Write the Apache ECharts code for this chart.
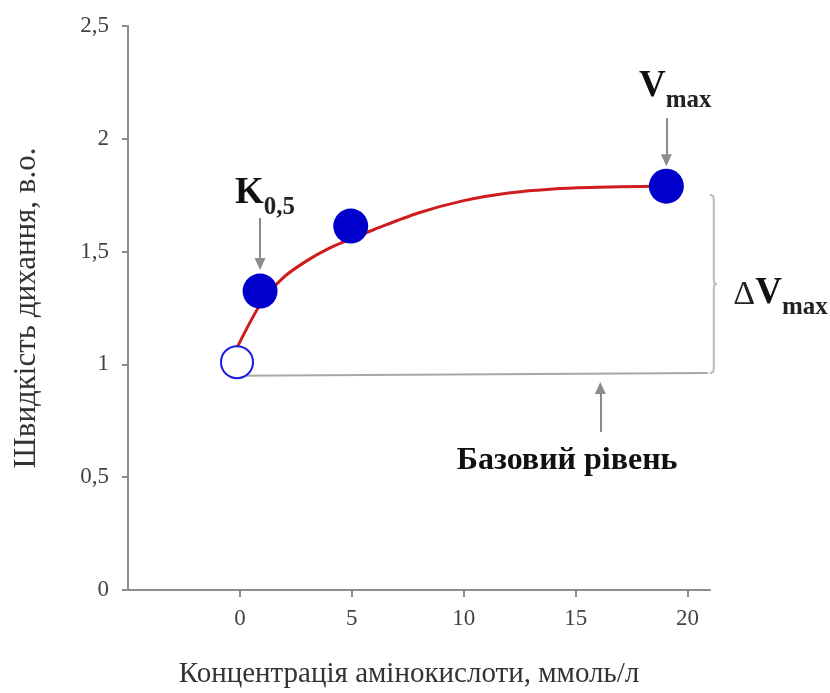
<!DOCTYPE html>
<html>
<head>
<meta charset="utf-8">
<script src="https://cdn.jsdelivr.net/npm/echarts@6/dist/echarts.min.js"></script>
<style>
html,body{margin:0;padding:0;background:#fff;}
#chart{width:830px;height:693px;}
</style>
</head>
<body>
<div id="chart"></div>
<script>
// ---- data ----
const xTicks = [0, 5, 10, 15, 20];
const baselinePoint = [[-0.13, 1.01]];                 // open circle
const measuredPoints = [[0.9, 1.325], [4.95, 1.613], [19.05, 1.79]]; // filled circles
const curveX = [-0.1, 1, 2, 3, 4, 5, 6, 8, 10, 12, 14, 16, 18, 19.05];
const curveY = [1.08, 1.28, 1.39, 1.46, 1.515, 1.558, 1.598, 1.672, 1.726, 1.76, 1.778, 1.785, 1.789, 1.79];
const baseLineX = [-0.1, 20.9];
const baseLineY = [0.95, 0.962];
const braceRange = {x: 20.9, yTop: 1.751, yBottom: 0.962};
const arrowK = [[0.9, 1.649], [0.9, 1.445]];
const arrowV = [[19.05, 2.092], [19.05, 1.905]];
const arrowBase = [[16.1, 0.70], [16.1, 0.895]];
const labelK = [1.12, 1.765];
const labelV = [19.45, 2.238];
const labelDV = [24.15, 1.32];
const labelBase = [14.62, 0.572];

const serif = "'Liberation Serif', 'DejaVu Serif', serif";
const grey = '#8c8c8c';

const chart = echarts.init(document.getElementById('chart'));

function arrowLine(pts) {
  return [{coord: pts[0], symbol: 'none'}, {coord: pts[1], symbol: 'triangle'}];
}

const option = {
  animation: false,
  grid: {left: 128, right: 120, top: 26, bottom: 103, containLabel: false, outerBoundsMode: 'none'},
  xAxis: {
    type: 'value', min: -5, max: 21, interval: 5,
    name: 'Концентрація амінокислоти, ммоль/л',
    nameLocation: 'middle', nameGap: 70,
    nameTextStyle: {fontFamily: serif, fontSize: 29, color: '#333', padding: [0, 20, 0, 0]},
    axisLine: {show: true, onZero: false, lineStyle: {color: grey, width: 2}},
    axisTick: {show: true, customValues: xTicks, length: 7, lineStyle: {color: grey, width: 2}},
    axisLabel: {customValues: xTicks, fontFamily: serif, fontSize: 23, color: '#444', margin: 17},
    splitLine: {show: false}
  },
  yAxis: {
    type: 'value', min: 0, max: 2.5, interval: 0.5,
    name: 'Швидкість дихання, в.о.',
    nameLocation: 'middle', nameGap: 86,
    nameTextStyle: {fontFamily: serif, fontSize: 31, color: '#333'},
    axisLine: {show: true, onZero: false, lineStyle: {color: grey, width: 2}},
    axisTick: {show: true, length: 6, lineStyle: {color: grey, width: 2}},
    axisLabel: {fontFamily: serif, fontSize: 23, color: '#444', margin: 19,
      formatter: v => String(v).replace('.', ',')},
    splitLine: {show: false}
  },
  series: [
    {
      type: 'line', name: 'base', data: baseLineX.map((x, i) => [x, baseLineY[i]]),
      showSymbol: false, lineStyle: {color: '#a8a8a8', width: 2}, z: 1,
      markLine: {
        silent: true, symbolSize: [11, 12], animation: false,
        lineStyle: {color: '#8c8c8c', width: 2, type: 'solid'},
        label: {show: false},
        data: [arrowLine(arrowK), arrowLine(arrowV), arrowLine(arrowBase)]
      }
    },
    {
      type: 'line', name: 'curve', data: curveX.map((x, i) => [x, curveY[i]]),
      showSymbol: false, smooth: 0.3,
      lineStyle: {color: '#d01c1c', width: 3}, z: 2
    },
    {
      type: 'scatter', name: 'baseline', data: baselinePoint, symbolSize: 32,
      itemStyle: {color: '#fff', borderColor: '#1c1ce0', borderWidth: 2, opacity: 1}, z: 3
    },
    {
      type: 'scatter', name: 'points', data: measuredPoints, symbolSize: 35,
      itemStyle: {color: '#0000cc', opacity: 1}, z: 3
    },
    {
      type: 'custom', name: 'brace', clip: false, z: 2,
      data: [[braceRange.x, braceRange.yTop, braceRange.yBottom]],
      renderItem: function (params, api) {
        const top = api.coord([api.value(0), api.value(1)]);
        const bot = api.coord([api.value(0), api.value(2)]);
        const x = top[0] + 2, t = top[1], b = bot[1], m = (t + b) / 2;
        const w = 4;
        const d = `M${x},${t} Q${x + w},${t} ${x + w},${t + w} L${x + w},${m - w} Q${x + w},${m} ${x + 2 * w - 1},${m} Q${x + w},${m} ${x + w},${m + w} L${x + w},${b - w} Q${x + w},${b} ${x},${b}`;
        return {type: 'path', shape: {pathData: d}, style: {fill: null, stroke: '#b4bcc8', lineWidth: 2}};
      }
    },
    {
      type: 'scatter', name: 'annotations', symbolSize: 0, clip: false, z: 5,
      itemStyle: {opacity: 1},
      data: [
        {value: labelK, label: {formatter: '{b|K}{s|0,5}'}},
        {value: labelV, label: {formatter: '{b|V}{s|max}'}},
        {value: labelDV, label: {formatter: '{d|Δ}{b|V}{s|max}'}},
        {value: labelBase, label: {formatter: '{t|Базовий рівень}'}}
      ],
      label: {
        show: true, position: 'inside', color: '#111',
        rich: {
          b: {fontFamily: serif, fontWeight: 'bold', fontSize: 37, color: '#111', verticalAlign: 'bottom', lineHeight: 40},
          d: {fontFamily: serif, fontSize: 34, color: '#222', verticalAlign: 'bottom', lineHeight: 40},
          s: {fontFamily: serif, fontWeight: 'bold', fontSize: 25, color: '#222', verticalAlign: 'bottom', lineHeight: 40, padding: [0, 0, -8, 0]},
          t: {fontFamily: serif, fontWeight: 'bold', fontSize: 32, color: '#111'}
        }
      }
    }
  ]
};
chart.setOption(option);
</script>
</body>
</html>
